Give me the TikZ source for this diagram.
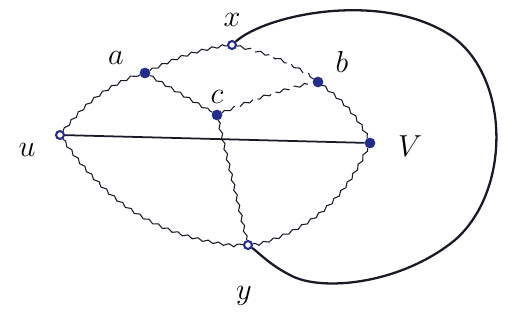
\documentclass[tikz,border=0pt]{standalone}
\usepackage{amsmath,amssymb}
\usepackage{tikz}
\usetikzlibrary{calc,decorations.pathmorphing}
\definecolor{inkblue}{RGB}{35,45,140}
\definecolor{ink}{RGB}{25,25,40}
\tikzset{
  vtx/.style={circle,draw=inkblue,fill=inkblue,inner sep=2pt},
  hvtx/.style={circle,draw=inkblue,line width=1.2pt,fill=white,inner sep=1.6pt},
  wavy/.style={ink,line width=0.6pt,decorate,decoration={snake,amplitude=0.7pt,segment length=6pt}},
  brokenwavy/.style={wavy,dash pattern=on 9pt off 3pt},
  sedge/.style={ink,line width=1pt},
  loopedge/.style={ink,line width=1.3pt},
  every label/.style={font=\LARGE}
}
\begin{document}
\begin{tikzpicture}[x=0.02cm,y=-0.02cm]
\useasboundingbox (0,0) rectangle (505,331);
\node[hvtx] (u) at (60,135) {};
\node[vtx]  (v) at (370,143) {};
\node[hvtx] (x) at (232,45) {};
\node[vtx]  (a) at (145,73) {};
\node[vtx]  (b) at (318,82) {};
\node[vtx]  (c) at (217,115) {};
\node[hvtx] (y) at (248,245) {};
% labels
\node[font=\LARGE] (ul) at (27,150) {$u$};
\node[font=\LARGE] (vl) at (410,146) {$V$};
\node[font=\LARGE] (xl) at (232,20) {$x$};
\node[font=\LARGE] (al) at (116,58) {$a$};
\node[font=\LARGE] (bl) at (342,62) {$b$};
\node[font=\LARGE] (cl) at (217,97) {$c$};
\node[font=\LARGE] (yl) at (244,296) {$y$};
% edges
\draw[sedge] (u) -- (v);
\draw[wavy] (u) to[bend left=15] (a);
\draw[wavy] (a) to[bend left=8] (x);
\draw[brokenwavy] (x) to[bend left=10] (b);
\draw[wavy] (b) to[bend left=12] (v);
\draw[wavy] (a) -- (c);
\draw[brokenwavy] (c) to[bend left=5] (b);
\draw[wavy] (c) -- (y);
\draw[wavy] (u) to[bend right=25] (y);
\draw[wavy] (v) to[bend left=25] (y);
% the big loop x -- y
\draw[loopedge] (x) .. controls (265,15) and (380,-10) .. (450,35)
  .. controls (510,75) and (512,190) .. (455,240)
  .. controls (400,285) and (320,292) .. (290,275)
  .. controls (270,265) and (258,252) .. (y);
\end{tikzpicture}
\end{document}
